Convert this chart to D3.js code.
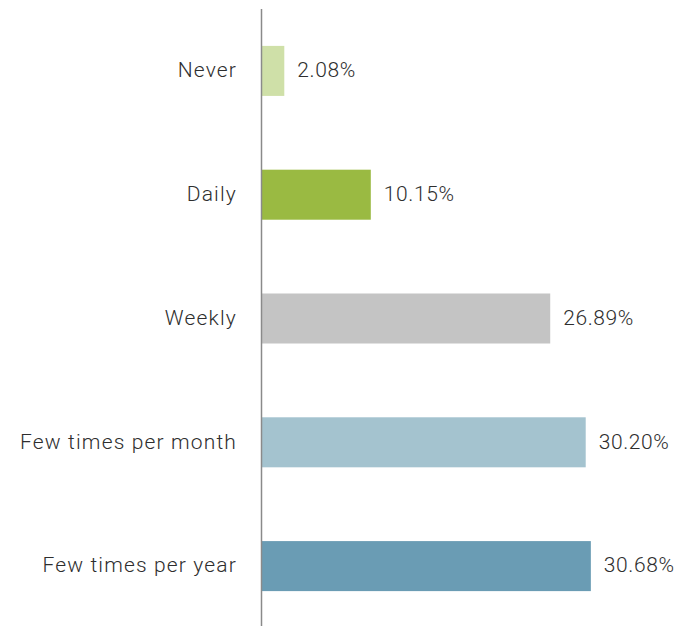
<!DOCTYPE html>
<html>
<head>
<meta charset="utf-8">
<script src="https://cdn.jsdelivr.net/npm/d3@7"></script>
<style>
  html, body { margin: 0; padding: 0; background: #fff; }
  svg text { font-family: Roboto, "Noto Sans", sans-serif; fill: #2e2e2e; font-weight: 300; }
  .cat-label { letter-spacing: 1.15px; }
  .val-label { letter-spacing: 0.6px; }
</style>
</head>
<body>
<svg id="chart" width="677" height="626"></svg>
<script>
// Frequency categories and their share of responses (%)
const categories = ["Never", "Daily", "Weekly", "Few times per month", "Few times per year"];
const values = [2.08, 10.15, 26.89, 30.20, 30.68];
const colors = ["#cfe0a8", "#9aba42", "#c4c4c4", "#a4c3cf", "#6a9cb4"];

const svg = d3.select("#chart");
const axisX = 261.5;

const y = d3.scaleBand()
  .domain(categories)
  .range([9, 628])
  .paddingInner(0.596)
  .paddingOuter(0.298);

const x = d3.scaleLinear()
  .domain([0, 32])
  .range([262, 605]);

const rows = categories.map((c, i) => ({ cat: c, val: values[i], color: colors[i] }));

// bars
svg.append("g").selectAll("rect")
  .data(rows)
  .join("rect")
  .attr("x", x(0))
  .attr("y", d => y(d.cat))
  .attr("width", d => x(d.val) - x(0))
  .attr("height", y.bandwidth())
  .attr("fill", d => d.color);

// vertical baseline
svg.append("line")
  .attr("x1", axisX).attr("x2", axisX)
  .attr("y1", 9).attr("y2", 626)
  .attr("stroke", "#8a8a8a")
  .attr("stroke-width", 1.5);

// category labels
svg.append("g").selectAll("text")
  .data(rows)
  .join("text")
  .attr("class", "cat-label")
  .attr("x", 237)
  .attr("y", d => y(d.cat) + y.bandwidth() / 2)
  .attr("dy", "0.3em")
  .attr("text-anchor", "end")
  .attr("font-size", 21)
  .text(d => d.cat);

// value labels
svg.append("g").selectAll("text")
  .data(rows)
  .join("text")
  .attr("class", "val-label")
  .attr("x", d => x(d.val) + 13)
  .attr("y", d => y(d.cat) + y.bandwidth() / 2)
  .attr("dy", "0.3em")
  .attr("font-size", 21)
  .text(d => d.val.toFixed(2) + "%");
</script>
</body>
</html>
